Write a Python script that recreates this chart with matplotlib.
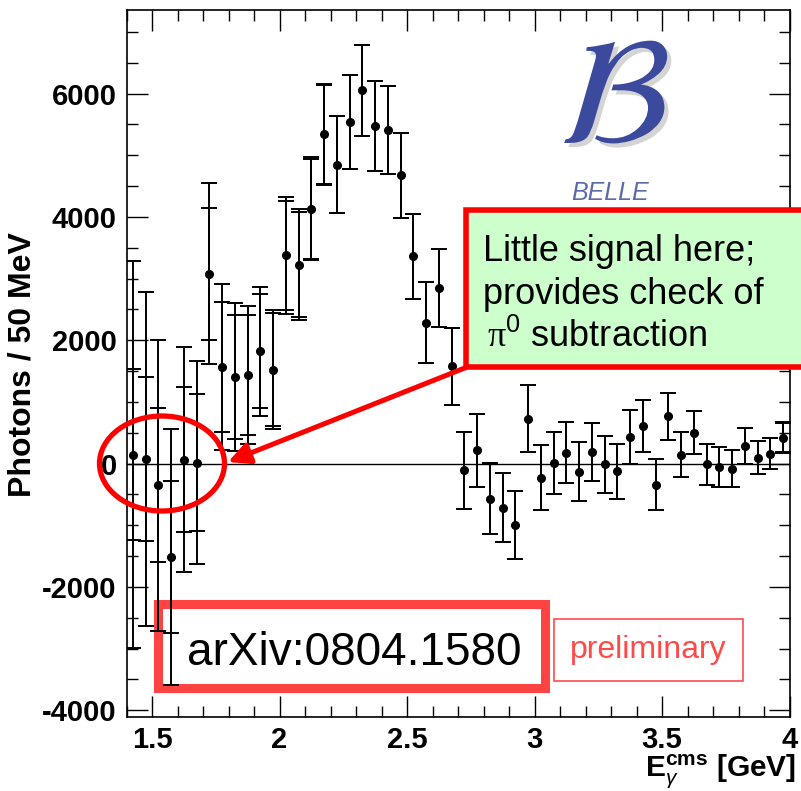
import matplotlib
matplotlib.use("Agg")
import matplotlib.pyplot as plt
import matplotlib.patheffects as pe
from matplotlib.patches import Rectangle, Ellipse, FancyArrowPatch
from matplotlib.ticker import MultipleLocator
import numpy as np

plt.rcParams['font.family'] = ['Liberation Sans', 'DejaVu Sans']
plt.rcParams['axes.unicode_minus'] = False
plt.rcParams['mathtext.fontset'] = 'custom'
plt.rcParams['mathtext.rm'] = 'Liberation Sans'
plt.rcParams['mathtext.bf'] = 'Liberation Sans:bold'
plt.rcParams['mathtext.it'] = 'Liberation Sans:italic'
plt.rcParams['mathtext.sf'] = 'Liberation Serif'

# Photon energy spectrum, 50 MeV bins from 1.40 to 4.00 GeV
bin_lo = 1.40
bin_width = 0.05
counts = [146, 70, -352, -1514, 65, 16, 3081, 1567, 1405, 1432,
          1821, 1524, 3378, 3227, 4135, 5341, 4848, 5541, 6054, 5476,
          5405, 4675, 3361, 2280, 2848, 1578, -109, 216, -568, -714,
          -1000, 729, -227, 10, 178, -135, 189, -11, -124, 432,
          605, -341, 767, 146, 497, -11, -54, -81, 286, 97,
          162, 421]
err_stat = [1380, 1330, 1250, 1227, 1170, 1110, 1070, 1050, 1008, 973,
            922, 918, 885, 845, 810, 800, 780, 765, 740, 725,
            716, 690, 685, 657, 630, 627, 621, 590, 575, 555,
            555, 546, 522, 508, 495, 478, 465, 462, 446, 432,
            418, 411, 378, 365, 350, 333, 320, 300, 290, 270,
            256, 240]
err_total = [3134, 2710, 2360, 2081, 1830, 1640, 1465, 1340, 1200, 1120,
             1046, 965, 945, 895, 832, 820, 780, 765, 740, 725,
             716, 690, 685, 657, 630, 627, 621, 590, 575, 555,
             555, 546, 522, 508, 495, 478, 465, 462, 446, 432,
             418, 411, 378, 365, 350, 333, 320, 300, 290, 270,
             256, 250]
x_ticks = [1.5, 2.0, 2.5, 3.0, 3.5, 4.0]
x_ticklabels = ['1.5', '2', '2.5', '3', '3.5', '4']
y_ticks = [-4000, -2000, 0, 2000, 4000, 6000]

centers = bin_lo + bin_width * (np.arange(len(counts)) + 0.5)

W, H = 801, 791
fig = plt.figure(figsize=(W / 100, H / 100), dpi=100)


def fx(px):
    return px / W


def fy(py):
    return 1 - py / H


ax = fig.add_axes([fx(126.5), fy(716.7), (789.5 - 126.5) / W, (716.7 - 10) / H])
ax.set_xlim(1.4, 4.0)
ax.set_ylim(-4105, 7355)

ax.axhline(0, color='black', lw=1.0, zorder=2)

ax.errorbar(centers, counts, yerr=err_total, fmt='none', ecolor='black',
            elinewidth=1.4, capsize=5.8, capthick=1.4, zorder=3)
ax.errorbar(centers, counts, yerr=err_stat, fmt='o', color='black', ms=5.5,
            ecolor='black', elinewidth=1.4, capsize=5.8, capthick=1.4, zorder=4)

ax.set_xticks(x_ticks)
ax.set_xticklabels(x_ticklabels)
ax.set_yticks(y_ticks)
ax.xaxis.set_minor_locator(MultipleLocator(0.1))
ax.yaxis.set_minor_locator(MultipleLocator(500))
ax.tick_params(which='both', direction='in', top=True, right=True, width=1.0)
ax.tick_params(which='major', length=15)
ax.tick_params(which='minor', length=8)
ax.tick_params(axis='x', which='major', pad=7)
ax.tick_params(axis='y', which='major', pad=7)
for lab in ax.get_xticklabels() + ax.get_yticklabels():
    lab.set_fontsize(21)
    lab.set_fontweight('bold')
for sp in ax.spines.values():
    sp.set_linewidth(1.2)

fig.text(fx(23), fy(365), 'Photons / 50 MeV', rotation=90, ha='center',
         va='center', fontsize=23, fontweight='bold')
fig.text(fx(796), fy(777), r'$\mathbf{E}_{\gamma}^{\mathbf{cms}}$ [GeV]',
         ha='right', va='baseline', fontsize=21.5, fontweight='bold')

# Experiment logo
fig.text(fx(614), fy(104), r'$\mathcal{B}$', math_fontfamily='stix',
         fontsize=110, color='#3b4a9c', ha='center', va='center', zorder=6,
         path_effects=[pe.withSimplePatchShadow(offset=(3, -3),
                                                shadow_rgbFace='#b8b8b8',
                                                alpha=0.6)])
fig.text(fx(610), fy(200), 'BELLE', style='italic', fontsize=18,
         color='#5b6aa8', ha='center', va='baseline', zorder=6)

# Reference box and preliminary tag
ax.add_patch(Rectangle((fx(157.5), fy(688)), fx(544.5) - fx(157.5), fy(604) - fy(688),
                       transform=fig.transFigure, facecolor='white',
                       edgecolor='#ff4242', lw=6.5, clip_on=False, zorder=1))
fig.text(fx(354), fy(665), 'arXiv:0804.1580', fontsize=33, ha='center',
         va='baseline', color='black')
ax.add_patch(Rectangle((fx(553.5), fy(680.5)), fx(742.5) - fx(553.5), fy(618.5) - fy(680.5),
                       transform=fig.transFigure, facecolor='white',
                       edgecolor='#ff4a4a', lw=1.2, clip_on=False, zorder=1))
fig.text(fx(648), fy(658), 'preliminary', fontsize=23, ha='center',
         va='baseline', color='#ff4a4a')

# Callout box
ax.add_patch(Rectangle((fx(466), fy(367.5)), fx(806) - fx(466), fy(209.5) - fy(367.5),
                       transform=fig.transFigure, facecolor='#ccffcc',
                       edgecolor='#ff0000', lw=4, clip_on=False, zorder=7))
fig.text(fx(483), fy(261), 'Little signal here;', fontsize=26, va='baseline',
         color='black', zorder=8)
fig.text(fx(483), fy(304), 'provides check of', fontsize=26, va='baseline',
         color='black', zorder=8)
fig.text(fx(487), fy(347), r'$\mathsf{\pi}^{0}$ subtraction', fontsize=26,
         va='baseline', color='black', zorder=8)

# Arrow and ellipse marking the low-energy region
ax.add_patch(FancyArrowPatch((fx(466), fy(367.5)), (fx(228), fy(462)),
                             transform=fig.transFigure, arrowstyle='-|>',
                             mutation_scale=32, color='#ff0000', lw=3.6,
                             shrinkA=0, shrinkB=0, clip_on=False, zorder=7))
ax.add_patch(Ellipse((fx(162), fy(463.5)), 125 / W, 95 / H,
                     transform=fig.transFigure, facecolor='none',
                     edgecolor='#ff0000', lw=3.8, clip_on=False, zorder=7))

fig.savefig('out.png', dpi=100)
